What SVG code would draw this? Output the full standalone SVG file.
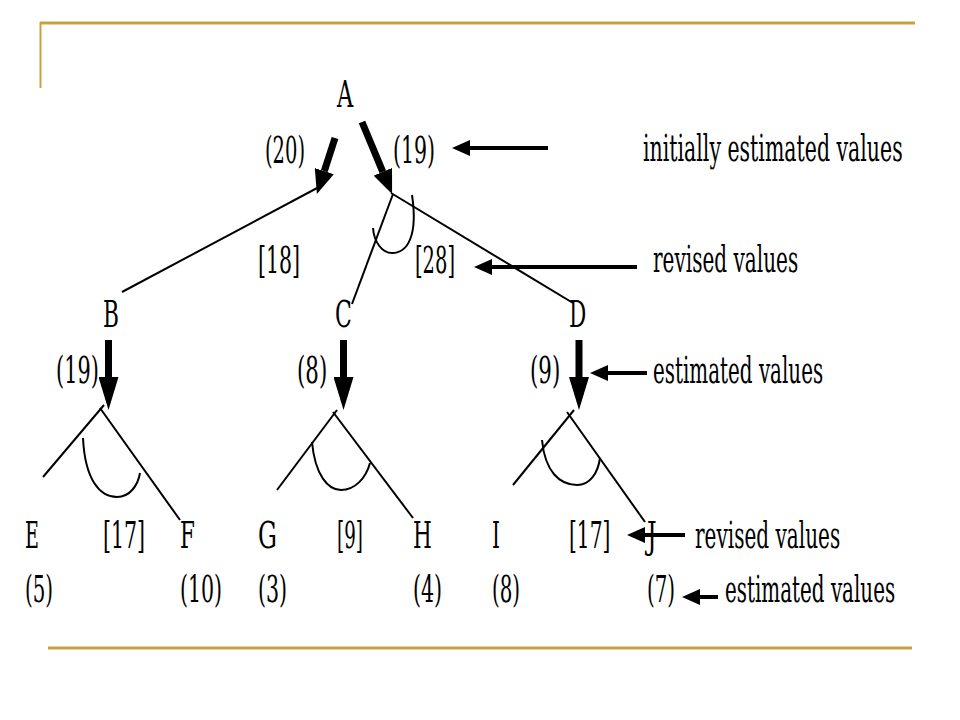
<svg xmlns="http://www.w3.org/2000/svg" width="960" height="720" viewBox="0 0 960 720">
<style>
  .ln { stroke: #000; stroke-width: 2; fill: none; }
  .arc { stroke: #000; stroke-width: 2; fill: none; }
  .thick { stroke: #000; stroke-width: 7; fill: none; marker-end: url(#bigHead); }
  .thickA { stroke: #000; stroke-width: 7; fill: none; marker-end: url(#headA); }
  .ptr { stroke: #000; stroke-width: 4; fill: none; marker-end: url(#smallHead); }
  .gold { stroke: #C6A23C; fill: none; }
</style>
<defs>
  <marker id="bigHead" markerUnits="userSpaceOnUse" viewBox="0 -10 33 20" refX="0" refY="0" markerWidth="33" markerHeight="20" orient="auto">
    <path d="M0,-10 L33,0 L0,10 z" fill="#000"/>
  </marker>
  <marker id="headA" markerUnits="userSpaceOnUse" viewBox="0 -10 24 20" refX="0" refY="0" markerWidth="24" markerHeight="20" orient="auto">
    <path d="M0,-10 L24,0 L0,10 z" fill="#000"/>
  </marker>
  <marker id="smallHead" markerUnits="userSpaceOnUse" viewBox="0 -8 18 16" refX="0" refY="0" markerWidth="18" markerHeight="16" orient="auto">
    <path d="M0,-8 L18,0 L0,8 z" fill="#000"/>
  </marker>
</defs>

<g id="frame">
  <line class="gold" x1="40" y1="23" x2="915" y2="23" stroke-width="3"/>
  <line class="gold" x1="40.5" y1="22" x2="40.5" y2="88" stroke-width="2"/>
  <line class="gold" x1="48" y1="648" x2="912" y2="648" stroke-width="3"/>
</g>

<g id="connectors">
  <line class="ln" x1="122" y1="292" x2="319" y2="187"/>
  <line class="ln" x1="391" y1="193" x2="573" y2="303"/>
  <line class="ln" x1="393" y1="194" x2="352" y2="304"/>
  <path class="arc" d="M412,195 C418,235 408,253 392,253 C382,253 374,242 373,228"/>
  <line class="thickA" x1="335" y1="138" x2="324.3" y2="171.1"/>
  <line class="thickA" x1="362" y1="122" x2="382.8" y2="171.8"/>
  <line class="thick" x1="108.5" y1="340" x2="108.5" y2="377"/>
  <line class="ln" x1="43" y1="477" x2="104" y2="405"/>
  <line class="ln" x1="100" y1="408" x2="180" y2="520"/>
  <path class="arc" d="M83,438 C85,480 100,497 117,497 C130,497 138,485 140,473"/>
  <line class="thick" x1="343.5" y1="340" x2="343.5" y2="377"/>
  <line class="ln" x1="277" y1="490" x2="337" y2="410"/>
  <line class="ln" x1="333" y1="412" x2="413" y2="518"/>
  <path class="arc" d="M312,442 C315,475 328,490 341,490 C355,490 366,478 370,463"/>
  <line class="thick" x1="579" y1="340" x2="579" y2="377"/>
  <line class="ln" x1="513" y1="485" x2="574" y2="410"/>
  <line class="ln" x1="567" y1="412" x2="645" y2="522"/>
  <path class="arc" d="M542,440 C545,472 560,485 577,485 C590,485 598,473 600,458"/>
  <line class="ptr" x1="548" y1="148" x2="470" y2="148"/>
  <line class="ptr" x1="637" y1="267" x2="492" y2="267"/>
  <line class="ptr" x1="647" y1="373" x2="608" y2="373"/>
  <line class="ptr" x1="685" y1="535" x2="645" y2="535"/>
  <line class="ptr" x1="718" y1="597" x2="700" y2="597"/>
</g>

<g font-family="DejaVu Serif, Liberation Serif, serif" font-size="38" fill="#000">
<g id="node-A">
  <text transform="translate(337,107) scale(0.6,1)" textLength="27" lengthAdjust="spacingAndGlyphs">A</text>
  <text transform="translate(265,163) scale(0.52,1)" textLength="77" lengthAdjust="spacingAndGlyphs">(20)</text>
  <text transform="translate(393,163) scale(0.54,1)" textLength="78" lengthAdjust="spacingAndGlyphs">(19)</text>
  <text transform="translate(258,273) scale(0.54,1)" textLength="78" lengthAdjust="spacingAndGlyphs">[18]</text>
  <text transform="translate(415,273) scale(0.52,1)" textLength="77" lengthAdjust="spacingAndGlyphs">[28]</text>
</g>
<g id="node-B">
  <text transform="translate(103,327) scale(0.57,1)" textLength="28" lengthAdjust="spacingAndGlyphs">B</text>
  <text transform="translate(56,383) scale(0.55,1)" textLength="78" lengthAdjust="spacingAndGlyphs">(19)</text>
  <text transform="translate(103,548) scale(0.54,1)" textLength="78" lengthAdjust="spacingAndGlyphs">[17]</text>
</g>
<g id="node-C">
  <text transform="translate(335,327) scale(0.58,1)" textLength="29" lengthAdjust="spacingAndGlyphs">C</text>
  <text transform="translate(297,383) scale(0.56,1)" textLength="54" lengthAdjust="spacingAndGlyphs">(8)</text>
  <text transform="translate(337,548) scale(0.48,1)" textLength="54" lengthAdjust="spacingAndGlyphs">[9]</text>
</g>
<g id="node-D">
  <text transform="translate(569,327) scale(0.54,1)" textLength="32" lengthAdjust="spacingAndGlyphs">D</text>
  <text transform="translate(530,383) scale(0.56,1)" textLength="54" lengthAdjust="spacingAndGlyphs">(9)</text>
  <text transform="translate(569,548) scale(0.53,1)" textLength="78" lengthAdjust="spacingAndGlyphs">[17]</text>
</g>
<g id="node-E">
  <text transform="translate(25,548) scale(0.5,1)" textLength="28" lengthAdjust="spacingAndGlyphs">E</text>
  <text transform="translate(25,602) scale(0.52,1)" textLength="54" lengthAdjust="spacingAndGlyphs">(5)</text>
</g>
<g id="node-F">
  <text transform="translate(180,548) scale(0.57,1)" textLength="26" lengthAdjust="spacingAndGlyphs">F</text>
  <text transform="translate(180,602) scale(0.54,1)" textLength="78" lengthAdjust="spacingAndGlyphs">(10)</text>
</g>
<g id="node-G">
  <text transform="translate(258,548) scale(0.61,1)" textLength="31" lengthAdjust="spacingAndGlyphs">G</text>
  <text transform="translate(258,602) scale(0.54,1)" textLength="54" lengthAdjust="spacingAndGlyphs">(3)</text>
</g>
<g id="node-H">
  <text transform="translate(413,548) scale(0.57,1)" textLength="33" lengthAdjust="spacingAndGlyphs">H</text>
  <text transform="translate(413,602) scale(0.54,1)" textLength="54" lengthAdjust="spacingAndGlyphs">(4)</text>
</g>
<g id="node-I">
  <text transform="translate(492,548) scale(0.5,1)" textLength="16" lengthAdjust="spacingAndGlyphs">I</text>
  <text transform="translate(492,602) scale(0.52,1)" textLength="54" lengthAdjust="spacingAndGlyphs">(8)</text>
</g>
<g id="node-J">
  <text transform="translate(647,548) scale(0.6,1)" textLength="16" lengthAdjust="spacingAndGlyphs">J</text>
  <text transform="translate(647,602) scale(0.52,1)" textLength="54" lengthAdjust="spacingAndGlyphs">(7)</text>
</g>
<g id="labels">
  <text transform="translate(643,161) scale(0.53,1)" textLength="490" lengthAdjust="spacingAndGlyphs">initially estimated values</text>
  <text transform="translate(653,272) scale(0.53,1)" textLength="274" lengthAdjust="spacingAndGlyphs">revised values</text>
  <text transform="translate(653,383) scale(0.53,1)" textLength="321" lengthAdjust="spacingAndGlyphs">estimated values</text>
  <text transform="translate(695,548) scale(0.53,1)" textLength="274" lengthAdjust="spacingAndGlyphs">revised values</text>
  <text transform="translate(725,602) scale(0.53,1)" textLength="321" lengthAdjust="spacingAndGlyphs">estimated values</text>
</g>
</g>
</svg>
